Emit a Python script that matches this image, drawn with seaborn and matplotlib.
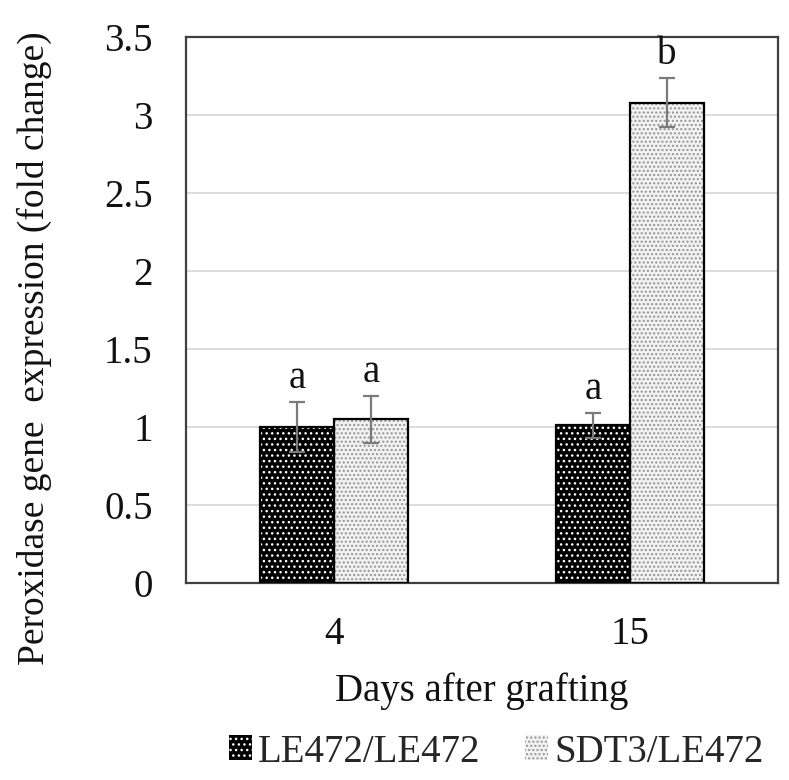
import numpy as np
import pandas as pd
import matplotlib
matplotlib.use("Agg")
import matplotlib.pyplot as plt
from matplotlib.patches import Rectangle, Patch
import seaborn as sns

days = ["4", "15"]
groups = ["LE472/LE472", "SDT3/LE472"]
le472_values = [1.00, 1.01]
sdt3_values = [1.05, 3.08]
le472_err = [0.16, 0.08]
sdt3_err = [0.15, 0.16]
le472_letters = ["a", "a"]
sdt3_letters = ["a", "b"]
ytick_values = [0, 0.5, 1, 1.5, 2, 2.5, 3, 3.5]
ytick_labels = ["0", "0.5", "1", "1.5", "2", "2.5", "3", "3.5"]

df = pd.DataFrame({
    "day": days * 2,
    "group": [groups[0]] * len(days) + [groups[1]] * len(days),
    "value": le472_values + sdt3_values,
})

sns.set_theme(style="white")
plt.rcParams["font.family"] = ["Liberation Serif", "DejaVu Serif"]
plt.rcParams["hatch.linewidth"] = 1.0

FS = 28
fig = plt.figure(figsize=(7.89, 7.8), dpi=100)
ax = fig.add_axes([186 / 789, 1 - 583 / 780, (778 - 186) / 789, (583 - 37) / 780])

sns.barplot(data=df, x="day", y="value", hue="group", order=days, hue_order=groups,
            palette=["black", "white"], width=0.5, errorbar=None, saturation=1,
            legend=False, ax=ax, zorder=2)

styles = {
    0: dict(face="black", hatchc="white", hatch="..."),
    1: dict(face="#f2f2f2", hatchc="#949494", hatch="...."),
}
n = len(days)
patches = list(ax.patches)
for i, p in enumerate(patches):
    st = styles[i // n]
    p.set_facecolor(st["face"])
    p.set_edgecolor(st["hatchc"])
    p.set_hatch(st["hatch"])
    p.set_linewidth(0)
    ax.add_patch(Rectangle((p.get_x(), p.get_y()), p.get_width(), p.get_height(),
                           fill=False, edgecolor="black", lw=1.6, zorder=3))

vals = [le472_values, sdt3_values]
errs = [le472_err, sdt3_err]
letters = [le472_letters, sdt3_letters]
for g in range(2):
    xs = [patches[g * n + j].get_x() + patches[g * n + j].get_width() / 2 for j in range(n)]
    ax.errorbar(xs, vals[g], yerr=errs[g], fmt="none", ecolor="#7a7a7a",
                elinewidth=1.6, capsize=5.5, capthick=1.6, zorder=4)
    for x, v, e, t in zip(xs, vals[g], errs[g], letters[g]):
        ax.text(x, v + e + 0.09, t, ha="center", va="baseline", fontsize=FS, color="#111111")

ax.set_xlim(-0.5, len(days) - 0.5)
ax.set_ylim(0, 3.5)
ax.set_yticks(ytick_values)
ax.set_yticklabels(ytick_labels)
ax.tick_params(axis="both", length=0, labelsize=FS, colors="#111111")
ax.tick_params(axis="y", pad=24)
ax.tick_params(axis="x", pad=24)
ax.yaxis.grid(True, color="#d9d9d9", lw=1.3)
ax.set_axisbelow(True)
for s in ax.spines.values():
    s.set_color("#404040")
    s.set_linewidth(1.6)

ax.set_xlabel("Days after grafting", fontsize=FS, color="#111111", labelpad=14)
ax.set_ylabel("Peroxidase gene  expression (fold change)", fontsize=27, color="#111111")
ax.yaxis.set_label_coords(-0.226, 0.43)

handles = [Patch(facecolor=styles[i]["face"], edgecolor=styles[i]["hatchc"], hatch=styles[i]["hatch"],
                 linewidth=0) for i in range(2)]
fig.legend(handles, groups, loc="center", bbox_to_anchor=(496 / 789, 1 - 752 / 780), ncol=2,
           frameon=False, fontsize=FS, handlelength=0.6, handleheight=0.6, handletextpad=0.15,
           columnspacing=1.15, borderaxespad=0, borderpad=0)

fig.savefig("out.png", dpi=100)
